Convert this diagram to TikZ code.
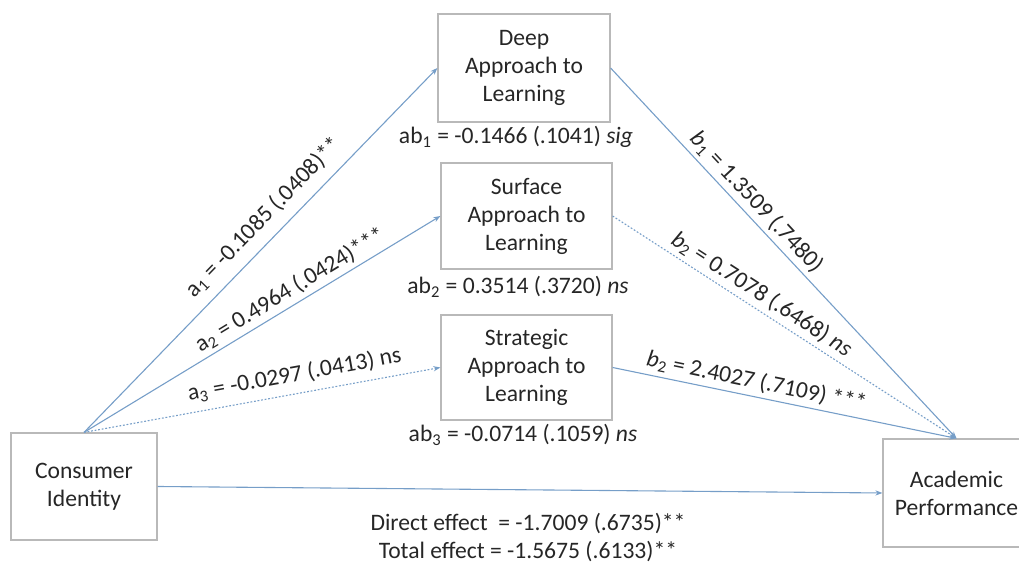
\documentclass[tikz,border=0pt]{standalone}
\usepackage{fontspec}
\setmainfont{Carlito}
\usetikzlibrary{arrows.meta}
\definecolor{lineblue}{RGB}{118,158,200}
\definecolor{boxgray}{RGB}{185,185,185}
\definecolor{txt}{RGB}{38,38,38}
\begin{document}
\begin{tikzpicture}[x=0.5pt,y=-0.5pt,
  every node/.style={font=\fontsize{11.8}{14}\selectfont, text=txt},
  box/.style={draw=boxgray, line width=0.6pt, align=center, inner sep=0pt},
  conn/.style={draw=lineblue, line width=0.55pt, -{Stealth[length=3.5pt,width=2.6pt]}},
  dotconn/.style={conn, dash pattern=on 0.9pt off 0.9pt},
  lab/.style={sloped, above=1pt, inner sep=1pt},
  plain/.style={inner sep=0pt, align=center}]
\useasboundingbox (0,0) rectangle (1019,565);

\node[box, minimum width=73pt, minimum height=53.5pt] (ci) at (84,486.5) {Consumer\\Identity};
\node[box, minimum width=86pt, minimum height=54pt] (dp) at (524,68) {Deep\\Approach to\\Learning};
\node[box, minimum width=85.5pt, minimum height=53pt] (sf) at (526.5,216) {Surface\\Approach to\\Learning};
\node[box, minimum width=85.5pt, minimum height=52.5pt] (st) at (526.5,367.5) {Strategic\\Approach to\\Learning};
\node[box, minimum width=73.5pt, minimum height=54pt] (ap) at (956.5,493) {Academic\\Performance};

\node[plain] (ab1) at (516,137) {ab\textsubscript{1} = -0.1466 (.1041) \textit{sig}};
\node[plain] (ab2) at (518,287) {ab\textsubscript{2} = 0.3514 (.3720) \textit{ns}};
\node[plain] (ab3) at (523,435) {ab\textsubscript{3} = -0.0714 (.1059) \textit{ns}};

\draw[conn] (ci.north) -- node[lab, pos=0.55, above=3pt] (la1) {a\textsubscript{1} = -0.1085 (.0408)**} (dp.west);
\draw[conn] (ci.north) -- node[lab, pos=0.6] (la2) {a\textsubscript{2} = 0.4964 (.0424)***} (sf.west);
\draw[dotconn] (ci.north) -- node[lab, pos=0.6, above=2pt] (la3) {a\textsubscript{3} = -0.0297 (.0413) ns} (st.west);

\draw[conn] (dp.east) -- node[lab, pos=0.39] (lb1) {\textit{b}\textsubscript{1} = 1.3509 (.7480)} (ap.north);
\draw[dotconn] (sf.east) -- node[lab, pos=0.41] (lb2) {\textit{b}\textsubscript{2} = 0.7078 (.6468) \textit{ns}} (ap.north);
\draw[conn] (st.east) -- node[lab, pos=0.41] (lb3) {\textit{b}\textsubscript{2} = 2.4027 (.7109) ***} (ap.north);

\draw[conn] (ci.east) -- (ap.west);
\node[plain] (eff) at (528,538) {Direct effect\ \ = -1.7009 (.6735)**\\Total effect = -1.5675 (.6133)**};
\end{tikzpicture}
\end{document}
